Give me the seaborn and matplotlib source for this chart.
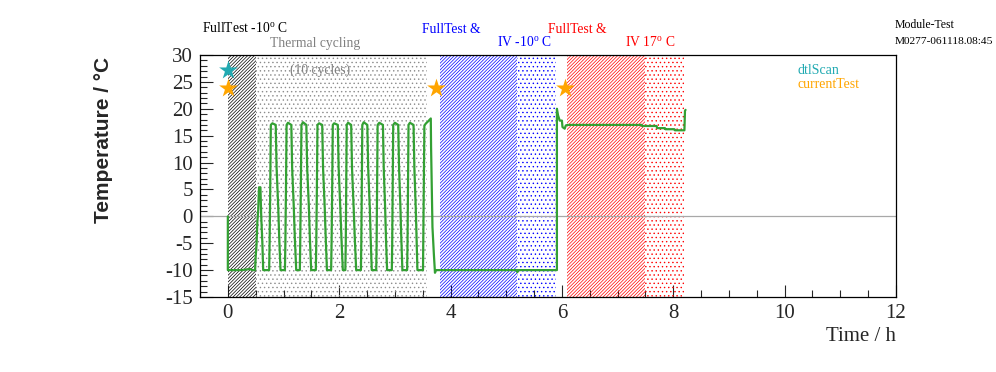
import numpy as np
import pandas as pd
import matplotlib
matplotlib.use('Agg')
import matplotlib.pyplot as plt
from matplotlib.ticker import MultipleLocator
import seaborn as sns

# temperature log (hours, deg C)
time_h = [0.0, 0.0, 0.25, 0.40, 0.44, 0.49, 0.50, 0.515, 0.53, 0.545, 0.56, 0.585, 0.60, 0.62, 0.635,
          0.742, 0.75, 0.76, 0.772, 0.80, 0.86, 0.875, 0.905, 0.922, 0.946,
          1.025, 1.033, 1.043, 1.055, 1.08, 1.14, 1.155, 1.185, 1.203, 1.228,
          1.293, 1.30, 1.31, 1.322, 1.35, 1.41, 1.425, 1.455, 1.473, 1.497,
          1.58, 1.588, 1.598, 1.61, 1.64, 1.695, 1.71, 1.74, 1.758, 1.78,
          1.855, 1.863, 1.873, 1.885, 1.91, 1.975, 1.99, 2.02, 2.04, 2.065,
          2.11, 2.118, 2.125, 2.135, 2.16, 2.215, 2.23, 2.26, 2.28, 2.305,
          2.39, 2.397, 2.405, 2.415, 2.44, 2.505, 2.52, 2.55, 2.565, 2.585,
          2.665, 2.672, 2.68, 2.69, 2.72, 2.785, 2.80, 2.825, 2.84, 2.86,
          2.945, 2.952, 2.96, 2.97, 3.00, 3.06, 3.075, 3.10, 3.115, 3.135,
          3.22, 3.227, 3.235, 3.245, 3.27, 3.335, 3.35, 3.375, 3.39, 3.405,
          3.505, 3.512, 3.52, 3.53, 3.56, 3.60, 3.645, 3.65, 3.675, 3.70, 3.72, 3.74,
          5.19, 5.20, 5.21, 5.91,
          5.91, 5.93, 5.96, 6.00, 6.01, 6.05, 6.07, 6.10, 7.43, 7.44, 7.70, 7.71,
          7.85, 7.86, 8.02, 8.03, 8.20, 8.21, 8.22]
temp_c = [0.0, -10.0, -10.0, -9.8, -10.0, -10.0, -7.5, -5.4, -1.0, 1.1, 5.4, 5.4, -0.1, -5.0, -10.0,
          -10.0, -5.0, 4.0, 17.0, 17.3, 17.0, 9.2, 1.7, -3.8, -10.0,
          -10.0, -5.0, 4.0, 17.0, 17.4, 17.0, 9.0, 1.5, -4.0, -10.0,
          -10.0, -5.0, 4.0, 17.0, 17.5, 17.0, 9.0, 1.8, -4.0, -10.0,
          -10.0, -5.0, 4.0, 17.0, 17.3, 17.0, 9.0, 1.6, -4.0, -10.0,
          -10.0, -5.0, 4.0, 17.0, 17.3, 17.0, 9.0, 1.5, -4.0, -10.0,
          -10.0, -5.0, 4.0, 17.0, 17.4, 17.0, 9.0, 1.5, -4.0, -10.0,
          -10.0, -5.0, 4.0, 17.0, 17.5, 17.0, 9.0, 1.5, -4.0, -10.0,
          -10.0, -5.0, 4.0, 17.0, 17.4, 17.0, 9.0, 1.5, -4.0, -10.0,
          -10.0, -5.0, 4.0, 17.0, 17.4, 17.0, 9.0, 1.5, -4.0, -10.0,
          -10.0, -5.0, 4.0, 17.0, 17.4, 17.0, 9.0, 1.5, -4.0, -10.0,
          -10.0, -3.0, 5.0, 16.9, 17.3, 17.7, 18.2, 12.9, -2.0, -7.0, -10.5, -10.0,
          -10.0, -10.4, -10.0, -10.0,
          20.0, 18.8, 17.8, 17.8, 16.6, 16.3, 16.9, 17.0, 17.0, 16.8, 16.8, 16.4,
          16.4, 16.2, 16.2, 16.0, 16.0, 19.6, 19.8]

# test markers
dtl_t = [0.0]
dtl_y = [27.2]
cur_t = [0.0, 3.73, 6.05]
cur_y = [23.8, 23.8, 23.8]

# shaded periods: (start, end, colour, hatch)
periods = [(0.0, 0.5, 'black', '/' * 10),
           (0.5, 3.57, '#8c8c8c', '....'),
           (3.81, 5.19, 'blue', '/' * 10),
           (5.19, 5.9, 'blue', '....'),
           (6.1, 7.49, 'red', '/' * 10),
           (7.49, 8.2, 'red', '....')]

sns.set_style('ticks')
plt.rcParams['font.family'] = ['Liberation Serif', 'DejaVu Serif']
plt.rcParams['mathtext.fontset'] = 'custom'
plt.rcParams['mathtext.rm'] = 'Liberation Serif'
plt.rcParams['hatch.linewidth'] = 0.5
plt.rcParams['axes.unicode_minus'] = False

fig = plt.figure(figsize=(9.96, 3.72), dpi=100)
ax = fig.add_axes([200 / 996, 1 - 297 / 372, 696 / 996, 242 / 372])

for x0, x1, c, h in periods:
    ax.axvspan(x0, x1, facecolor='none', edgecolor=c, hatch=h, linewidth=0, zorder=1)

ax.axhline(0, color='#a8a8a8', lw=0.9, zorder=2)

df = pd.DataFrame({'t': time_h, 'T': temp_c})
sns.lineplot(data=df, x='t', y='T', sort=False, estimator=None, color='#33a033',
             lw=1.6, ax=ax, zorder=3)
sns.scatterplot(x=dtl_t, y=dtl_y, marker='*', s=200, color='#22aab2', linewidth=0, ax=ax, zorder=4)
sns.scatterplot(x=cur_t, y=cur_y, marker='*', s=200, color='#ffa500', linewidth=0, ax=ax, zorder=4)

ax.set_xlim(-0.5, 12)
ax.set_ylim(-15, 30)
ax.xaxis.set_major_locator(MultipleLocator(2))
ax.xaxis.set_minor_locator(MultipleLocator(0.5))
ax.yaxis.set_major_locator(MultipleLocator(5))
ax.yaxis.set_minor_locator(MultipleLocator(1))
ax.tick_params(which='major', direction='in', length=9, width=0.8, labelsize=15, pad=5)
ax.tick_params(which='minor', direction='in', length=5, width=0.8)
for s in ax.spines.values():
    s.set_linewidth(0.9)
    s.set_color('black')

ax.set_xlabel('Time / h', fontsize=15, ha='right')
ax.xaxis.set_label_coords(1.0, -0.125)
ax.xaxis.label.set_va('top')
ax.set_ylabel('Temperature / °C', fontsize=15, fontweight='bold',
              family=['Liberation Sans', 'DejaVu Sans'])
ax.yaxis.set_label_coords(-0.139, 0.65)
ax.yaxis.label.set_va('center')

def ftext(x, y, s, **kw):
    fig.text(x / 996, 1 - y / 372, s, va='baseline', **kw)

ftext(202, 33, r'FullTest -10$^{\mathrm{o}}$ C', fontsize=9.8, color='black')
ftext(270, 47, 'Thermal cycling', fontsize=9.8, color='#808080')
ftext(290, 74, '(10 cycles)', fontsize=9.8, color='#808080')
ftext(422, 33, 'FullTest &', fontsize=9.8, color='blue')
ftext(497, 47, r'IV -10$^{\mathrm{o}}$ C', fontsize=9.8, color='blue')
ftext(548, 33, 'FullTest &', fontsize=9.8, color='red')
ftext(625, 47, r'IV 17$^{\mathrm{o}}$ C', fontsize=9.8, color='red')
ftext(895, 28, 'Module-Test', fontsize=8.5, color='black')
ftext(895, 44, 'M0277-061118.08:45', fontsize=8.2, color='black')
ftext(797, 74, 'dtlScan', fontsize=10, color='#22aab2')
ftext(797, 88, 'currentTest', fontsize=10, color='#ffa500')

fig.savefig('out.png', dpi=100)
